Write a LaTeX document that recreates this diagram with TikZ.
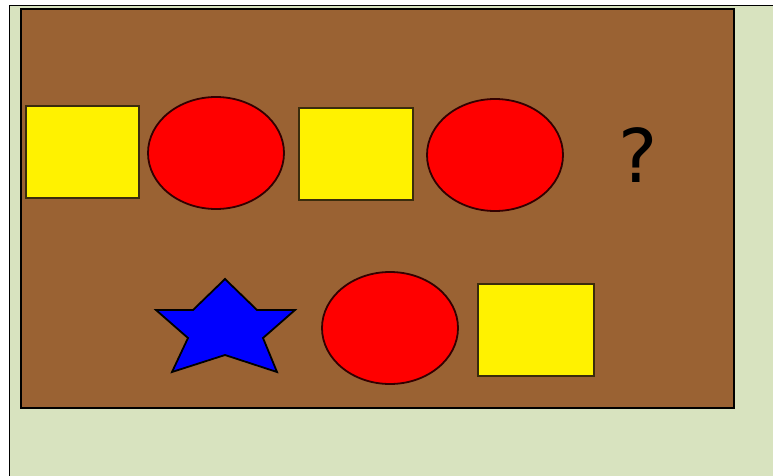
\documentclass[tikz,border=0pt]{standalone}
\usepackage{fontspec}
\setmainfont{DejaVu Sans}
\definecolor{bgout}{HTML}{FFFFFF}
\definecolor{bggreen}{HTML}{D8E3BF}
\definecolor{boardbrown}{HTML}{9A6233}
\definecolor{sqedge}{HTML}{3A2C0C}
\tikzset{
  sq/.style={draw=sqedge, line width=2.5pt, fill=yellow},
  circ/.style={draw=black!80!red, line width=1.8pt, fill=red},
  starshape/.style={draw=black, line width=1.8pt, fill=blue, line join=miter},
}
\begin{document}
\begin{tikzpicture}[x=1pt,y=-1pt]
\useasboundingbox (0,0) rectangle (773,476);
\fill[bgout] (0,0) rectangle (773,476);
\fill[bggreen] (9,5) rectangle (773,476);
\draw[black, line width=1.8pt] (9.5,476) -- (9.5,5.5) -- (773,5.5);
\draw[fill=boardbrown, line width=2.5pt] (21,9) rectangle (734,408);
% top row
\draw[sq] (26,106) rectangle (139,198);
\draw[circ] (216,153) ellipse [x radius=68, y radius=56];
\draw[sq] (299,108) rectangle (413,200);
\draw[circ] (495,155) ellipse [x radius=68, y radius=56];
\node[inner sep=0pt, font=\fontsize{74}{74}\selectfont] (q) at (638,155) {?};
% bottom row
\draw[starshape] (225,279) -- (257,310) -- (295,310) -- (263,338) -- (277,372)
  -- (225,355) -- (172,372) -- (188,338) -- (156,310) -- (193,310) -- cycle;
\draw[circ] (390,328) ellipse [x radius=68, y radius=56];
\draw[sq] (478,284) rectangle (594,376);
\end{tikzpicture}
\end{document}
